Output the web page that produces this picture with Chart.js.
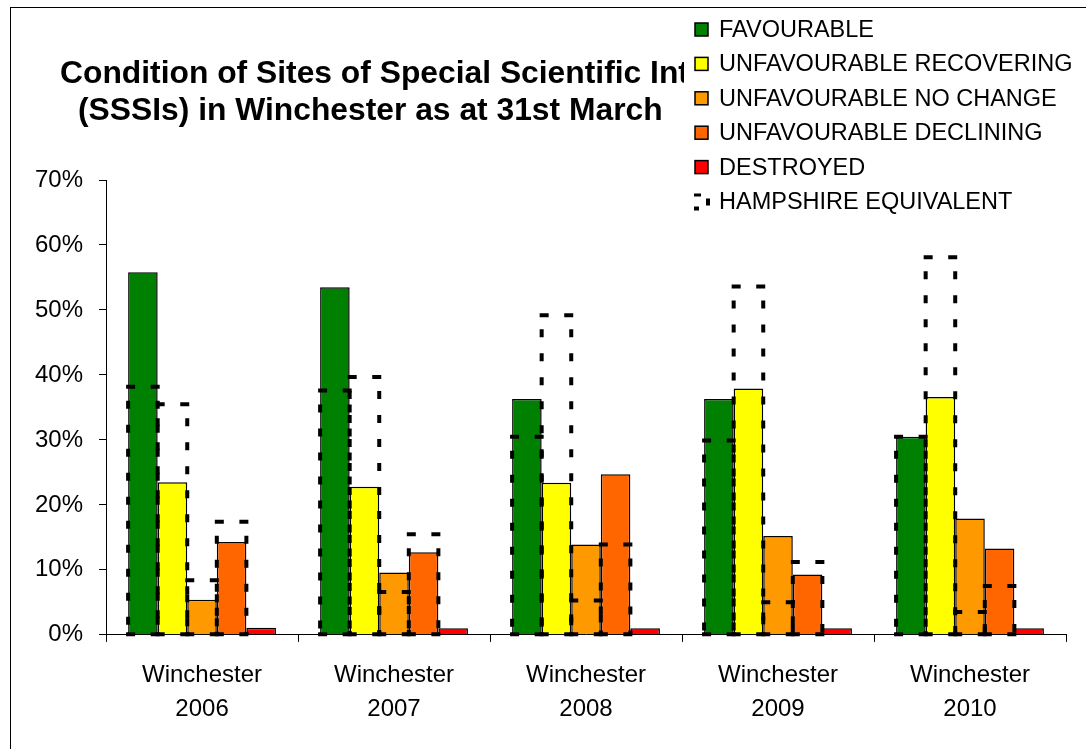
<!DOCTYPE html>
<html>
<head>
<meta charset="utf-8">
<script src="https://cdn.jsdelivr.net/npm/chart.js@4/dist/chart.umd.min.js"></script>
<style>
  body { margin: 0; background: #fff; }
  canvas { display: block; }
</style>
</head>
<body>
<canvas id="sssi-chart" width="1086" height="749"></canvas>
<script>
const categories = [
    ['Winchester', '2006'],
    ['Winchester', '2007'],
    ['Winchester', '2008'],
    ['Winchester', '2009'],
    ['Winchester', '2010']
];

// Winchester values (%)
const favourable = [55.8, 53.5, 36.3, 36.3, 30.5];
const recovering = [23.5, 22.8, 23.4, 37.9, 36.6];
const noChange = [5.4, 9.6, 13.9, 15.2, 17.9];
const declining = [14.3, 12.7, 24.7, 9.3, 13.3];
const destroyed = [1.1, 1.0, 1.0, 1.0, 1.0];

// Hampshire equivalent (%)
const hampFavourable = [38.2, 37.6, 30.5, 29.9, 30.5];
const hampRecovering = [35.5, 39.7, 49.2, 53.6, 58.1];
const hampNoChange = [8.4, 6.6, 5.3, 5.0, 3.5];
const hampDeclining = [17.4, 15.5, 13.9, 11.2, 7.5];
const hampDestroyed = [0, 0, 0, 0, 0];

const seriesNames = ['FAVOURABLE', 'UNFAVOURABLE RECOVERING', 'UNFAVOURABLE NO CHANGE', 'UNFAVOURABLE DECLINING', 'DESTROYED'];
const seriesColors = ['#008000', '#ffff00', '#ff9900', '#ff6600', '#ff0000'];
const hampshireName = 'HAMPSHIRE EQUIVALENT';
const yTicks = [0, 10, 20, 30, 40, 50, 60, 70];

const titleLines = ['Condition of Sites of Special Scientific Interest', '(SSSIs) in Winchester as at 31st March'];

const FONT = '"Liberation Sans", Arial, sans-serif';

const winchesterSeries = [favourable, recovering, noChange, declining, destroyed];
const hampshireSeries = [hampFavourable, hampRecovering, hampNoChange, hampDeclining, hampDestroyed];

const datasets = [];
winchesterSeries.forEach((vals, i) => {
    datasets.push({
        label: seriesNames[i],
        data: vals,
        stack: 's' + i,
        backgroundColor: seriesColors[i],
        borderColor: '#000',
        borderWidth: 1.5
    });
});
hampshireSeries.forEach((vals, i) => {
    datasets.push({
        label: hampshireName,
        data: vals,
        stack: 's' + i,
        hampshire: true,
        backgroundColor: 'rgba(0,0,0,0)',
        borderWidth: 0
    });
});

function dashedBox(ctx, left, right, top, bottom) {
    ctx.save();
    ctx.strokeStyle = '#000';
    ctx.lineWidth = 4;
    ctx.lineCap = 'butt';
    ctx.setLineDash([8, 16]);
    ctx.lineDashOffset = 10;
    [left, right].forEach(x => {
        ctx.beginPath();
        ctx.moveTo(x, top);
        ctx.lineTo(x, bottom);
        ctx.stroke();
    });
    ctx.setLineDash([]);
    [top, bottom].forEach(y => {
        ctx.beginPath();
        ctx.moveTo(left - 2, y);
        ctx.lineTo(left + 7, y);
        ctx.moveTo(right - 7, y);
        ctx.lineTo(right + 2, y);
        ctx.stroke();
    });
    ctx.restore();
}

const decorations = {
    id: 'decorations',
    beforeDraw(chart) {
        const ctx = chart.ctx;
        ctx.save();
        ctx.fillStyle = '#fff';
        ctx.fillRect(0, 0, chart.width, chart.height);
        ctx.strokeStyle = '#000';
        ctx.lineWidth = 1;
        ctx.strokeRect(10.5, 7.5, chart.width + 20, chart.height + 20);
        ctx.restore();
    },
    afterDatasetsDraw(chart) {
        const ctx = chart.ctx;
        chart.data.datasets.forEach((ds, i) => {
            if (!ds.hampshire) return;
            chart.getDatasetMeta(i).data.forEach(el => {
                const p = el.getProps(['x', 'y', 'base', 'width'], true);
                if (Math.abs(p.base - p.y) < 1) return;
                dashedBox(ctx, p.x - p.width / 2, p.x + p.width / 2, p.y, p.base);
            });
        });
    },
    afterDraw(chart) {
        const ctx = chart.ctx;
        ctx.save();
        // title (partly hidden behind the legend, as in the original)
        ctx.fillStyle = '#000';
        ctx.font = 'bold 31.8px ' + FONT;
        ctx.textAlign = 'left';
        ctx.textBaseline = 'middle';
        ctx.fillText(titleLines[0], 60, 74);
        ctx.fillText(titleLines[1], 78, 111);

        // legend box
        ctx.fillStyle = '#fff';
        ctx.fillRect(684, 8, chart.width - 684, 212);
        ctx.font = '23.5px ' + FONT;
        const rowY = i => 29.5 + i * 34.4;
        seriesNames.forEach((name, i) => {
            const y = rowY(i);
            ctx.fillStyle = seriesColors[i];
            ctx.fillRect(695, y - 6.5, 13, 13);
            ctx.strokeStyle = '#000';
            ctx.lineWidth = 1.5;
            ctx.strokeRect(695, y - 6.5, 13, 13);
            ctx.fillStyle = '#000';
            ctx.fillText(name, 719, y + 1);
        });
        const hy = rowY(5);
        ctx.fillStyle = '#000';
        ctx.fillRect(694, hy - 8, 7, 3);
        ctx.fillRect(706, hy - 3, 4, 7);
        ctx.fillRect(694, hy + 5, 5, 4);
        ctx.fillText(hampshireName, 719, hy + 1);
        ctx.restore();
    }
};

new Chart(document.getElementById('sssi-chart'), {
    type: 'bar',
    data: { labels: categories, datasets: datasets },
    options: {
        responsive: false,
        animation: false,
        layout: { padding: { left: 19, top: 180, right: 20, bottom: 7 } },
        datasets: { bar: { categoryPercentage: 0.77, barPercentage: 1.0 } },
        plugins: {
            legend: { display: false },
            title: { display: false },
            tooltip: { enabled: false }
        },
        scales: {
            x: {
                grid: { drawOnChartArea: false, color: '#000', tickLength: 7, offset: true },
                border: { color: '#000', width: 1 },
                ticks: {
                    color: '#000',
                    font: { family: FONT, size: 24, lineHeight: 1.42 },
                    padding: 16,
                    maxRotation: 0,
                    autoSkip: false
                }
            },
            y: {
                stacked: false,
                min: 0,
                max: 70,
                afterBuildTicks: axis => { axis.ticks = yTicks.map(v => ({ value: v })); },
                grid: { drawOnChartArea: false, color: '#000', tickLength: 7 },
                border: { color: '#000', width: 1 },
                ticks: {
                    color: '#000',
                    font: { family: FONT, size: 24 },
                    padding: 16,
                    callback: v => v + '%'
                }
            }
        }
    },
    plugins: [decorations]
});
</script>
</body>
</html>
